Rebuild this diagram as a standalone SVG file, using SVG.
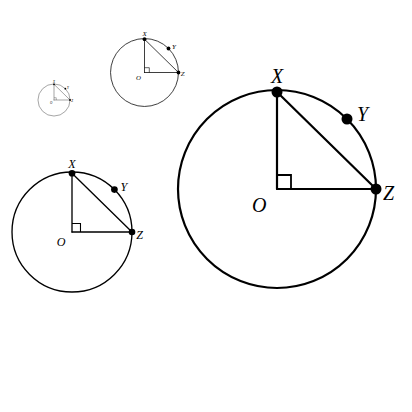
<svg xmlns="http://www.w3.org/2000/svg" xmlns:xlink="http://www.w3.org/1999/xlink" width="412" height="412" viewBox="0 0 412 412">
  <style>
    .circ { fill: none; stroke: #000; stroke-width: 2.2; }
    .seg { fill: none; stroke: #000; stroke-width: 2.2; stroke-linecap: round; }
    .ra { fill: none; stroke: #000; stroke-width: 1.8; }
    .pt { fill: #000; }
    .lbl { font-family: "Liberation Serif", "Times New Roman", serif; font-style: italic; font-size: 20px; fill: #000; }
  </style>
  <defs>
    <g id="fig">
      <circle class="circ" cx="0" cy="0" r="99"/>
      <g id="connectors">
        <line class="seg" x1="0" y1="0" x2="0" y2="-97"/>
        <line class="seg" x1="0" y1="0" x2="99" y2="0"/>
        <line class="seg" x1="0" y1="-97" x2="99" y2="0"/>
        <path class="ra" d="M0,-14 H14 V0"/>
      </g>
      <circle class="pt" cx="0" cy="-97" r="5.5"/>
      <circle class="pt" cx="70" cy="-70" r="5.5"/>
      <circle class="pt" cx="99" cy="0" r="5.5"/>
      <text class="lbl" x="0" y="-106" text-anchor="middle">X</text>
      <text class="lbl" x="80" y="-68">Y</text>
      <text class="lbl" x="106" y="11">Z</text>
      <text class="lbl" x="-25" y="23">O</text>
    </g>
  </defs>
  <rect width="412" height="412" fill="#fff"/>
  <g id="tiny" transform="translate(54,100) scale(0.162)"><use xlink:href="#fig" href="#fig"/></g>
  <g id="small" transform="translate(144.5,72.5) scale(0.343)"><use xlink:href="#fig" href="#fig"/></g>
  <g id="medium" transform="translate(72,232) scale(0.606)"><use xlink:href="#fig" href="#fig"/></g>
  <g id="large" transform="translate(277,189)"><use xlink:href="#fig" href="#fig"/></g>
</svg>
